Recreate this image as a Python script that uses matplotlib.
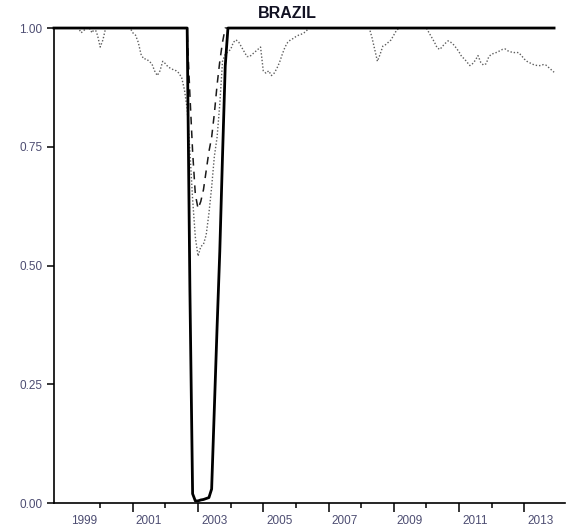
import numpy as np
from matplotlib import pyplot as plt

# monthly data, Aug 1998 - Dec 2013
start_year, start_month = 1998, 8

# solid line (thick)
solid = ([1.0] * 50 +
         [0.45, 0.02, 0.005,                     # Oct-Dec 2002
          0.005, 0.007, 0.008, 0.01, 0.012, 0.03,  # Jan-Jun 2003
          0.2, 0.37, 0.53, 0.73, 0.92, 1.0] +      # Jul-Dec 2003
         [1.0] * 120)

# dashed line
dashed = ([1.0] * 49 +
          [0.99, 0.86, 0.74, 0.65,                 # Sep-Dec 2002
           0.62, 0.635, 0.66, 0.70, 0.74, 0.77,    # Jan-Jun 2003
           0.82, 0.88, 0.93, 0.97, 1.0, 1.0] +     # Jul-Dec 2003
          [1.0] * 120)

# dotted line
dotted = (
    [1.0, 1.0, 1.0, 1.0, 1.0] +                                                   # 1998
    [1.0, 1.0, 1.0, 1.0, 1.0, 0.99, 0.995, 1.0, 1.0, 0.99, 1.0, 0.985] +          # 1999
    [0.96, 0.975, 1.0, 1.0, 1.0, 1.0, 1.0, 1.0, 1.0, 1.0, 1.0, 1.0] +             # 2000
    [0.99, 0.985, 0.97, 0.945, 0.935, 0.935, 0.93, 0.925, 0.91, 0.90, 0.91, 0.93] +  # 2001
    [0.925, 0.918, 0.915, 0.912, 0.91, 0.905, 0.895, 0.87, 0.83, 0.74, 0.64, 0.56] +  # 2002
    [0.52, 0.54, 0.545, 0.565, 0.61, 0.665, 0.73, 0.77, 0.84, 0.93, 0.945, 0.95] +    # 2003
    [0.955, 0.97, 0.975, 0.97, 0.96, 0.95, 0.94, 0.94, 0.945, 0.95, 0.955, 0.96] +    # 2004
    [0.91, 0.905, 0.91, 0.90, 0.905, 0.915, 0.928, 0.945, 0.96, 0.97, 0.975, 0.978] + # 2005
    [0.982, 0.985, 0.987, 0.99, 0.995, 1.0, 1.0, 1.0, 1.0, 1.0, 1.0, 1.0] +       # 2006
    [1.0] * 12 +                                                                  # 2007
    [1.0, 1.0, 1.0, 1.0, 0.98, 0.955, 0.93, 0.945, 0.962, 0.965, 0.97, 0.975] +   # 2008
    [0.985, 0.995, 1.0, 1.0, 1.0, 1.0, 1.0, 1.0, 1.0, 1.0, 1.0, 1.0] +            # 2009
    [1.0, 0.99, 0.98, 0.97, 0.958, 0.955, 0.962, 0.968, 0.973, 0.97, 0.965, 0.958] +  # 2010
    [0.95, 0.94, 0.935, 0.928, 0.921, 0.925, 0.932, 0.942, 0.928, 0.922, 0.925, 0.94] +  # 2011
    [0.945, 0.947, 0.949, 0.952, 0.955, 0.956, 0.952, 0.95, 0.948, 0.949, 0.948, 0.942] +  # 2012
    [0.935, 0.93, 0.927, 0.924, 0.922, 0.921, 0.921, 0.923, 0.922, 0.917, 0.912, 0.907]    # 2013
)

ytick_vals = [0.0, 0.25, 0.5, 0.75, 1.0]
ytick_labels = ['0.00', '0.25', '0.50', '0.75', '1.00']
year_labels = [1999, 2001, 2003, 2005, 2007, 2009, 2011, 2013]

n = len(dotted)
t = start_year + (start_month - 1) / 12 + np.arange(n) / 12

plt.rcParams['font.family'] = ['Liberation Sans', 'DejaVu Sans']
lab_col = '#4d4d72'

fig = plt.figure(figsize=(5.69, 5.30), dpi=100)
ax = fig.add_axes([0.0949, 0.0504, 0.898, 0.8967])

ax.plot(t, dotted, color='#5e5e5e', lw=1.0, ls=(0, (1, 1.4)), clip_on=False)
ax.plot(t, dashed, color='#1a1a1a', lw=1.1, ls=(0, (5, 4)), clip_on=False)
ax.plot(t, solid, color='black', lw=2.0, clip_on=False)

ax.set_xlim(t[0], 2014.25)
ax.set_ylim(0, 1.0)

for s in ['top', 'right']:
    ax.spines[s].set_visible(False)
for s in ['left', 'bottom']:
    ax.spines[s].set_linewidth(1.2)

ax.set_yticks(ytick_vals)
ax.set_yticklabels(ytick_labels, fontsize=8.5, color=lab_col)
ax.tick_params(axis='y', length=5, width=1.1, pad=3.5)

ax.set_xticks([y for y in range(2001, 2014, 2)])
ax.set_xticks([y for y in range(2000, 2013, 2)], minor=True)
ax.set_xticklabels([])
ax.tick_params(axis='x', which='major', length=6.2, width=1.1)
ax.tick_params(axis='x', which='minor', length=3.8, width=1.1)

for yr in year_labels:
    ax.annotate(str(yr), xy=(yr + 0.5, 0), xycoords=('data', 'axes fraction'),
                xytext=(0, -13), textcoords='offset points',
                ha='center', va='center', fontsize=8.5, color=lab_col)

fig.text(287 / 569, 1 - 13 / 530, 'BRAZIL', ha='center', va='center',
         fontsize=11.5, fontweight='bold', color='#111122')

plt.savefig('out.png', dpi=100)
